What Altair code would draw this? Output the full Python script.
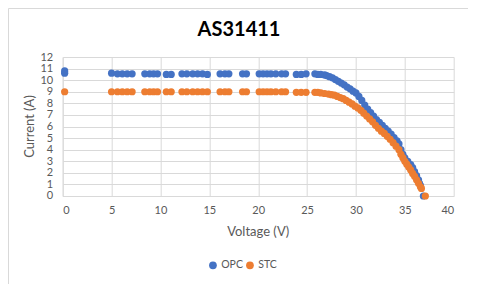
import altair as alt
import pandas as pd

# ---- data ----
opc_v = [0.2, 0.2, 5.0, 5.6, 6.1, 6.6, 7.1, 8.4, 8.9, 9.3, 9.7, 10.6, 11.1, 12.2, 12.7,
         13.3, 13.8, 14.3, 14.8, 16.1, 16.6, 17.0, 18.4, 18.8, 20.1, 20.5, 20.9, 21.3,
         21.8, 22.4, 22.8, 23.9, 24.4, 24.9, 25.8, 26.1, 26.4, 26.8,
         27.0, 27.3, 27.6, 27.9, 28.2, 28.5, 28.8, 29.1, 29.4, 29.7, 30.0, 30.3, 30.6,
         30.9, 31.2, 31.5, 31.8, 32.1, 32.4, 32.7, 33.0, 33.3, 33.6, 33.9, 34.2, 34.4,
         34.6, 34.8, 35.0, 35.3, 35.6, 35.8, 36.0, 36.2, 36.4, 36.5, 36.6, 36.9]
opc_i = [10.8, 10.6, 10.6, 10.55, 10.55, 10.55, 10.55, 10.55, 10.55, 10.55, 10.55, 10.5, 10.5, 10.55, 10.55,
         10.55, 10.55, 10.55, 10.5, 10.55, 10.55, 10.55, 10.55, 10.55, 10.55, 10.55, 10.55, 10.55,
         10.55, 10.55, 10.55, 10.5, 10.5, 10.55, 10.55, 10.5, 10.5, 10.45,
         10.4, 10.3, 10.2, 10.05, 9.9, 9.75, 9.6, 9.4, 9.25, 9.05, 8.9, 8.6, 8.25,
         7.85, 7.5, 7.2, 6.9, 6.6, 6.35, 6.1, 5.85, 5.6, 5.35, 5.05, 4.75, 4.5,
         4.0, 3.6, 3.3, 3.0, 2.7, 2.45, 2.1, 1.75, 1.4, 1.1, 0.9, 0.0]

stc_v = [0.2, 5.0, 5.6, 6.1, 6.6, 7.1, 8.4, 8.9, 9.3, 9.7, 10.6, 11.1, 12.2, 12.7,
         13.3, 13.8, 14.3, 14.8, 16.1, 16.6, 17.0, 18.4, 18.8, 20.1, 20.5, 20.9, 21.3,
         21.8, 22.4, 22.8, 23.9, 24.4, 24.9, 25.8, 26.1, 26.4,
         26.8, 27.2, 27.5, 27.8, 28.1, 28.4, 28.7, 29.0, 29.3, 29.6, 29.9, 30.2, 30.5,
         30.8, 31.1, 31.4, 31.7, 32.0, 32.3, 32.6, 32.9, 33.2, 33.5, 33.8, 34.1, 34.4,
         34.6, 34.8, 35.0, 35.2, 35.4, 35.6, 35.8, 36.0, 36.2, 36.4, 36.6, 36.7, 37.1]
stc_i = [9.0, 9.0, 9.0, 9.0, 9.0, 9.0, 9.0, 9.0, 9.0, 9.0, 9.0, 9.0, 9.0, 9.0,
         9.0, 9.0, 9.0, 9.0, 9.0, 9.0, 9.0, 9.0, 9.0, 9.0, 9.0, 9.0, 9.0,
         9.0, 9.0, 9.0, 8.95, 8.95, 8.95, 8.95, 8.95, 8.9,
         8.85, 8.8, 8.75, 8.7, 8.6, 8.5, 8.4, 8.25, 8.1, 7.95, 7.75, 7.6, 7.4,
         7.15, 6.9, 6.65, 6.4, 6.1, 5.85, 5.6, 5.4, 5.15, 4.9, 4.6, 4.3, 4.0,
         3.6, 3.3, 3.0, 2.75, 2.5, 2.25, 1.95, 1.7, 1.4, 1.1, 0.8, 0.65, 0.0]

series_names = ["OPC", "STC"]
series_colors = ["#4472C4", "#ED7D31"]
x_ticks = [0, 5, 10, 15, 20, 25, 30, 35, 40]
y_ticks = list(range(0, 13))
title_text = "AS31411"
x_title = "Voltage (V)"
y_title = "Current (A)"

df = pd.concat([
    pd.DataFrame({"V": opc_v, "I": opc_i, "series": "OPC", "o": 0}),
    pd.DataFrame({"V": stc_v, "I": stc_i, "series": "STC", "o": 1}),
], ignore_index=True)

FONT = "Lato"
W, H = 391, 139

points = alt.Chart(df).mark_circle(size=52, opacity=1).encode(
    x=alt.X("V:Q", scale=alt.Scale(domain=[0, 40], nice=False),
            axis=alt.Axis(values=x_ticks, title=None, grid=True, gridColor="#d9d9d9",
                          domainColor="#d9d9d9", ticks=False, labelColor="#595959",
                          labelFontSize=11, labelPadding=9, labelFont=FONT)),
    y=alt.Y("I:Q", scale=alt.Scale(domain=[0, 12], nice=False),
            axis=alt.Axis(values=y_ticks, title=None, grid=True, gridColor="#d9d9d9",
                          domainColor="#d9d9d9", ticks=False, labelColor="#595959",
                          labelFontSize=11, labelPadding=10, labelFont=FONT)),
    color=alt.Color("series:N", scale=alt.Scale(domain=series_names, range=series_colors),
                    legend=alt.Legend(title=None, orient="none", direction="horizontal",
                                      legendX=145, legendY=203, symbolType="circle",
                                      symbolSize=60, labelFontSize=10.5, labelColor="#595959",
                                      labelFont=FONT, columnPadding=1, labelOffset=3)),
    order="o:Q",
)

one = pd.DataFrame({"a": [0]})

border = alt.Chart(one).mark_rect(
    fill=None, stroke="#d9d9d9", strokeWidth=1
).encode(x=alt.value(-54.2), x2=alt.value(410.8), y=alt.value(-48.5), y2=alt.value(227.5))

title_mark = alt.Chart(one).mark_text(
    text=title_text, font=FONT, fontSize=20, fontWeight="bold", color="#000000",
    align="center", baseline="middle"
).encode(x=alt.value(176.3), y=alt.value(-27))

xtitle_mark = alt.Chart(one).mark_text(
    text=x_title, font=FONT, fontSize=13, color="#595959",
    align="center", baseline="middle"
).encode(x=alt.value(195.5), y=alt.value(36 + 139))

ytitle_mark = alt.Chart(one).mark_text(
    text=y_title, font=FONT, fontSize=13, color="#595959", angle=270,
    align="center", baseline="middle"
).encode(x=alt.value(-32.7), y=alt.value(69.5))

chart = alt.layer(border, points, title_mark, xtitle_mark, ytitle_mark).properties(
    width=W, height=H,
    autosize=alt.AutoSizeParams(type="none"),
    padding={"left": 54.7, "top": 49, "right": 14, "bottom": 88},
).configure_view(stroke=None)

chart.save("out.html", embed_options={"renderer": "svg", "actions": False})
